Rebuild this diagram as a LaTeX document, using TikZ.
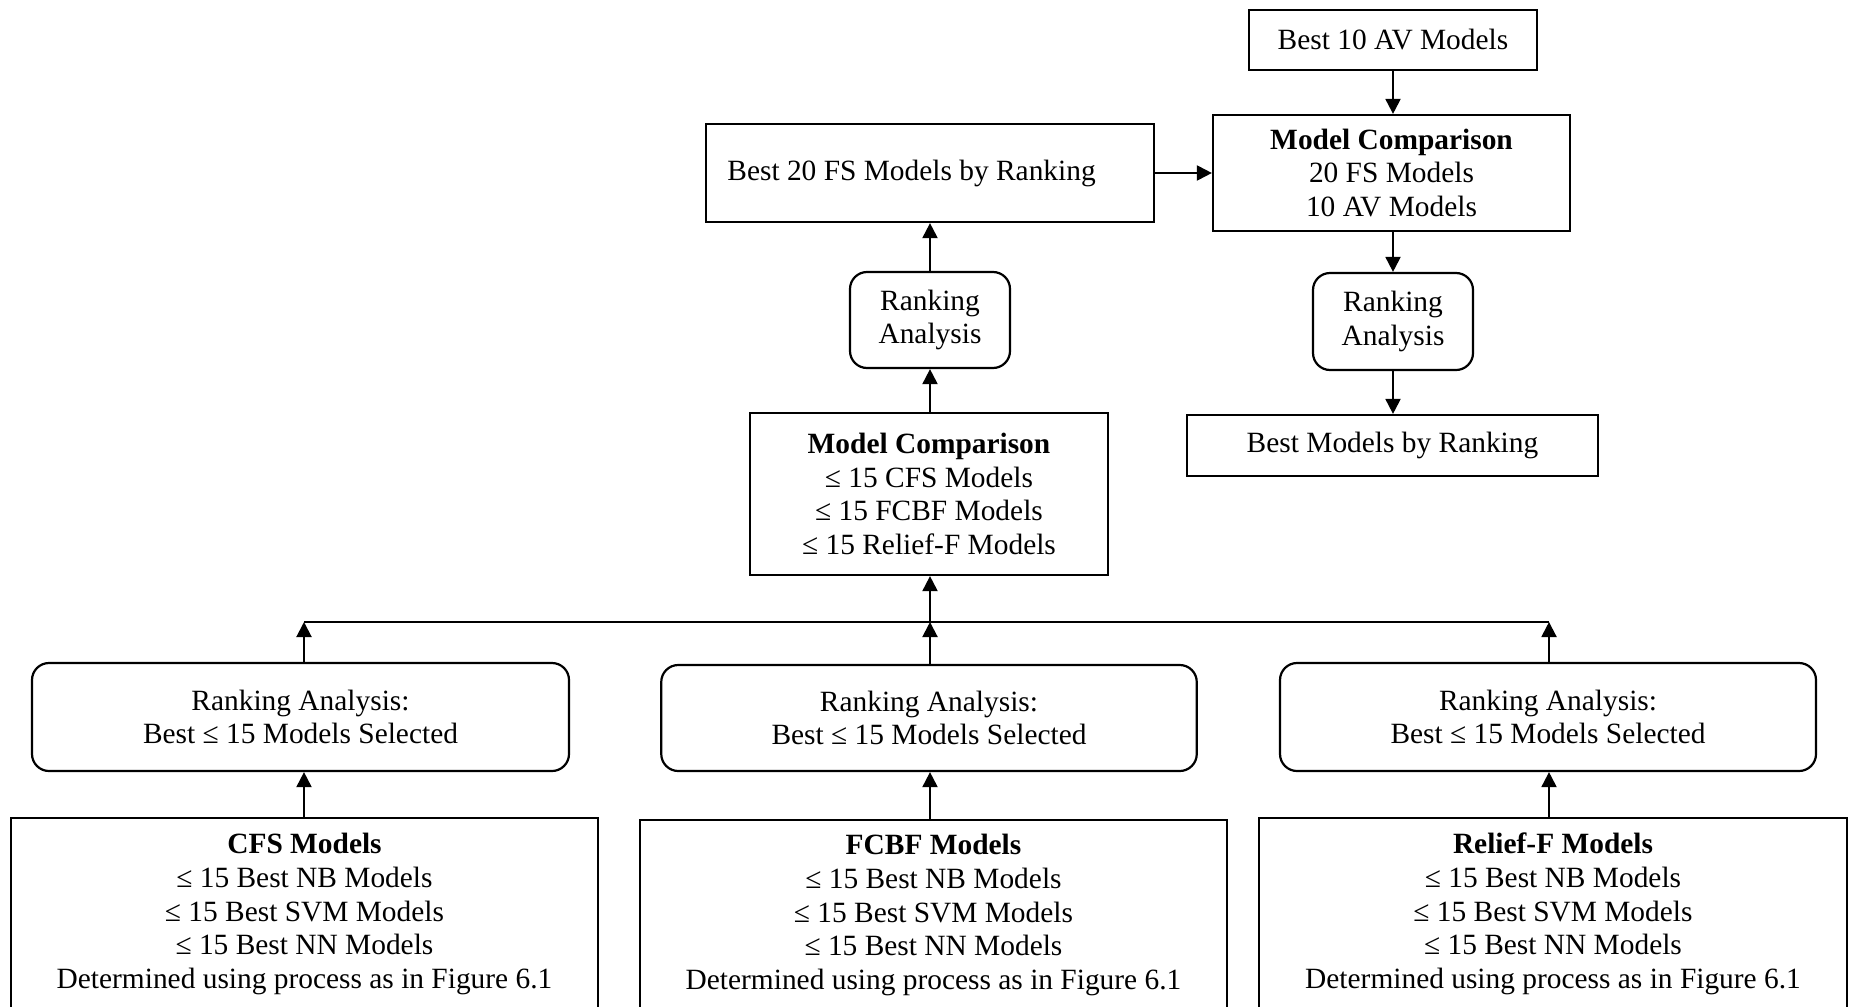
\documentclass[tikz,border=0pt]{standalone}
\usepackage{fontspec}
\setmainfont{Liberation Serif}
\usetikzlibrary{arrows.meta}
\begin{document}
\begin{tikzpicture}[x=0.5pt,y=-0.5pt,
  box/.style={draw, line width=1.1pt, inner sep=0pt, align=center, font=\fontsize{14.7}{16.9}\selectfont},
  rbox/.style={box, rounded corners=8.5pt},
  txt/.style={inner sep=0pt, font=\fontsize{14.7}{16.9}\selectfont},
  arr/.style={line width=1pt, -{Triangle[length=7.5pt,width=7.5pt]}},
  ln/.style={line width=1pt}]
\fill[white] (0,0) rectangle (1850,1006);
\useasboundingbox (0,0) rectangle (1850,1006);

% top right column
\node[box, minimum width=144pt, minimum height=30pt] (av) at (1393,40) {Best 10 AV Models};
\node[box, minimum width=178.5pt, minimum height=58pt] (mc1) at (1391.5,173)
  {\textbf{Model Comparison}\\20 FS Models\\10 AV Models};
\node[rbox, minimum width=80pt, minimum height=48.5pt] (ra2) at (1393,321.5) {Ranking\\Analysis};
\node[box, minimum width=205.5pt, minimum height=30.5pt] (best) at (1392.5,445.5) {Best Models by Ranking};

% middle column
\node[box, minimum width=224pt, minimum height=49pt] (fs20) at (930,173) {};
\node[txt, anchor=west] (fs20t) at (727,173) {Best 20 FS Models by Ranking};
\node[rbox, minimum width=80pt, minimum height=48pt] (ra1) at (930,320) {Ranking\\Analysis};
\node[box, minimum width=179pt, minimum height=81pt] (mc2) at (929,494)
  {\textbf{Model Comparison}\\≤ 15 CFS Models\\≤ 15 FCBF Models\\≤ 15 Relief-F Models};

% bottom ranking boxes
\node[rbox, minimum width=268.5pt, minimum height=54pt] (ral) at (300.5,717)
  {Ranking Analysis:\\Best ≤ 15 Models Selected};
\node[rbox, minimum width=267.75pt, minimum height=53pt] (ram) at (929,718)
  {Ranking Analysis:\\Best ≤ 15 Models Selected};
\node[rbox, minimum width=268pt, minimum height=54pt] (rar) at (1548,717)
  {Ranking Analysis:\\Best ≤ 15 Models Selected};

% bottom model boxes
\node[box, minimum width=293.5pt, minimum height=96pt] (cfs) at (304.5,914)
  {\textbf{CFS Models}\\≤ 15 Best NB Models\\≤ 15 Best SVM Models\\≤ 15 Best NN Models\\Determined using process as in Figure 6.1};
\node[box, minimum width=293.5pt, minimum height=95pt] (fcbf) at (933.5,915)
  {\textbf{FCBF Models}\\≤ 15 Best NB Models\\≤ 15 Best SVM Models\\≤ 15 Best NN Models\\Determined using process as in Figure 6.1};
\node[box, minimum width=294pt, minimum height=96pt] (rel) at (1553,914)
  {\textbf{Relief-F Models}\\≤ 15 Best NB Models\\≤ 15 Best SVM Models\\≤ 15 Best NN Models\\Determined using process as in Figure 6.1};

% junction coordinates
\coordinate (jl) at (304,622);
\coordinate (jm) at (930,622);
\coordinate (jr) at (1549,622);

% connectors
\draw[arr] (av.south) -- (av.south |- mc1.north);
\draw[arr] (fs20.east) -- (fs20.east -| mc1.west);
\draw[arr] (ra1.north) -- (ra1.north |- fs20.south);
\draw[arr] (mc2.north -| ra1) -- (ra1.south);
\draw[arr] (ra2.north |- mc1.south) -- (ra2.north);
\draw[arr] (ra2.south) -- (ra2.south |- best.north);

\draw[ln] (jl) -- (jr);
\draw[arr] (jm) -- (jm |- mc2.south);
\draw[arr] (jl |- ral.north) -- (jl);
\draw[arr] (jm |- ram.north) -- (jm);
\draw[arr] (jr |- rar.north) -- (jr);

\draw[arr] (jl |- cfs.north) -- (jl |- ral.south);
\draw[arr] (jm |- fcbf.north) -- (jm |- ram.south);
\draw[arr] (jr |- rel.north) -- (jr |- rar.south);
\end{tikzpicture}
\end{document}
